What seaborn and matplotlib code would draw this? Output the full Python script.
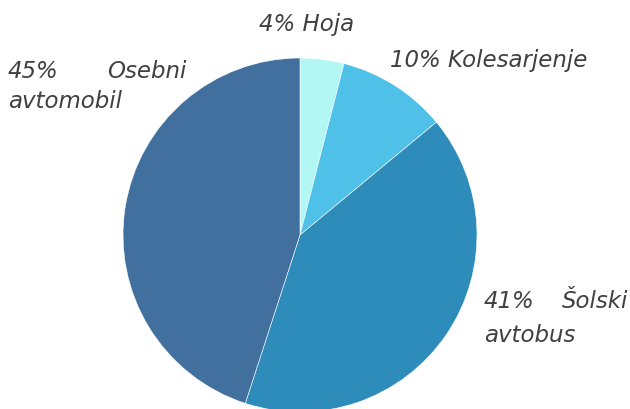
import matplotlib.pyplot as plt
import seaborn as sns

categories = ["Hoja", "Kolesarjenje", "Šolski avtobus", "Osebni avtomobil"]
shares = [4, 10, 41, 45]
colors = ["#b3f7f5", "#4fc0e8", "#2d8cba", "#41709f"]

sns.set_theme(style="white")
plt.rcParams["font.family"] = ["DejaVu Sans"]

W, H = 630, 409
fig = plt.figure(figsize=(W / 100, H / 100), dpi=100)
ax = fig.add_axes([0, 0, 1, 1])

ax.pie(shares, colors=colors, startangle=90, counterclock=False,
       center=(300, H - 235), radius=177,
       wedgeprops=dict(edgecolor="white", linewidth=0.4))
ax.set_xlim(0, W)
ax.set_ylim(0, H)
ax.set_aspect("equal")
ax.axis("off")

txt = dict(color="#404040", fontsize=16.5, style="italic", va="center")
ax.text(307, H - 24, f"{shares[0]}% {categories[0]}", ha="center", **txt)
ax.text(390, H - 60, f"{shares[1]}% {categories[1]}", ha="left", **txt)
ax.text(8, H - 71, f"{shares[3]}%", ha="left", **txt)
ax.text(186, H - 71, "Osebni", ha="right", **txt)
ax.text(8, H - 102, "avtomobil", ha="left", **txt)
ax.text(484, H - 302, f"{shares[2]}%", ha="left", **txt)
ax.text(628, H - 302, "Šolski", ha="right", **txt)
ax.text(484, H - 335, "avtobus", ha="left", **txt)

fig.savefig("out.png", dpi=100)
